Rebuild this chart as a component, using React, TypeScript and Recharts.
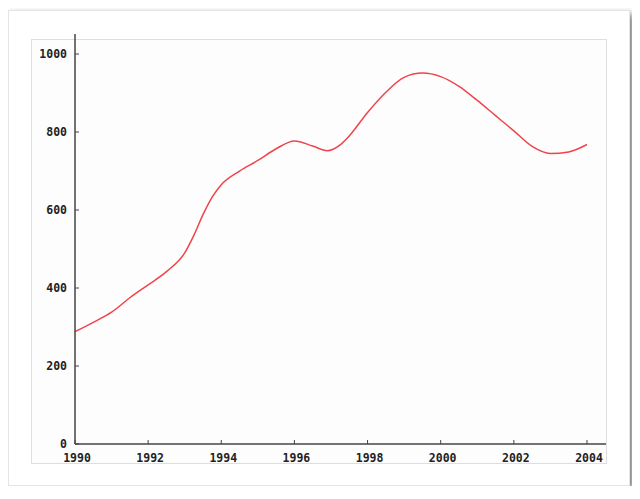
import React from "react";
import { LineChart, Line, XAxis, YAxis } from "recharts";

const years = [
  1990.0, 1990.5, 1991.0, 1991.5, 1992.0, 1992.5, 1993.0, 1993.25, 1993.5, 1993.75,
  1994.0, 1994.5, 1995.0, 1995.5, 1996.0, 1996.5, 1996.9, 1997.25, 1997.5, 1998.0,
  1998.5, 1999.0, 1999.5, 2000.0, 2000.5, 2001.0, 2001.5, 2002.0, 2002.5, 2003.0,
  2003.5, 2004.0,
];
const values = [
  288, 312, 338, 375, 408, 442, 490, 535, 588, 633,
  665, 700, 727, 757, 777, 764, 752, 767, 790, 850,
  902, 940, 951, 942, 917, 881, 842, 803, 763, 745,
  749, 768,
];
const xTicks = [1990, 1992, 1994, 1996, 1998, 2000, 2002, 2004];
const yTicks = [0, 200, 400, 600, 800, 1000];

const data = years.map((y, i) => ({ year: y, value: values[i] }));

const FONT = "'DejaVu Sans Mono', monospace";

const XTick = (props: any) => {
  const { x, y, payload } = props;
  return (
    <g>
      <line x1={x} y1={y} x2={x} y2={y - 4} stroke="#444" strokeWidth={1} />
      <text x={x + 2} y={y + 18} textAnchor="middle" fontFamily={FONT} fontWeight="bold" fontSize={11.5} fill="#222">
        {payload.value}
      </text>
    </g>
  );
};

const YTick = (props: any) => {
  const { x, y, payload } = props;
  return (
    <g>
      <line x1={x} y1={y} x2={x + 4} y2={y} stroke="#444" strokeWidth={1} />
      <text x={x - 8} y={y + 4} textAnchor="end" fontFamily={FONT} fontWeight="bold" fontSize={11.5} fill="#222">
        {payload.value}
      </text>
    </g>
  );
};

export default function App() {
  return (
    <div
      style={{
        position: "relative",
        marginTop: 2,
        width: 622,
        height: 476,
        background: "#fff",
        border: "1px solid #e4e4e4",
        boxSizing: "border-box",
        boxShadow: "3px 4px 7px rgba(0,0,0,0.55)",
      }}
    >
      <div
        style={{
          position: "absolute",
          left: 22,
          top: 28,
          width: 576,
          height: 425,
          background: "#fdfdfd",
          border: "1px solid #dedede",
          boxSizing: "border-box",
        }}
      />
      <div style={{ position: "absolute", left: 0, top: 0 }}>
        <LineChart
          width={622}
          height={476}
          data={data}
          margin={{ top: 23, right: 25, bottom: 13, left: 0 }}
        >
          <XAxis
            dataKey="year"
            type="number"
            domain={[1990, 2004.52]}
            ticks={xTicks}
            allowDataOverflow
            height={30}
            tickSize={0}
            tickMargin={0}
            tickLine={false}
            axisLine={{ stroke: "#444", strokeWidth: 1.5 }}
            tick={<XTick />}
          />
          <YAxis
            type="number"
            domain={[0, 1051.3]}
            ticks={yTicks}
            allowDataOverflow
            width={66}
            tickSize={0}
            tickMargin={0}
            tickLine={false}
            axisLine={{ stroke: "#444", strokeWidth: 1.5 }}
            tick={<YTick />}
          />
          <Line
            dataKey="value"
            type="monotone"
            stroke="#f0434c"
            strokeWidth={1.5}
            dot={false}
            isAnimationActive={false}
          />
        </LineChart>
      </div>
    </div>
  );
}
